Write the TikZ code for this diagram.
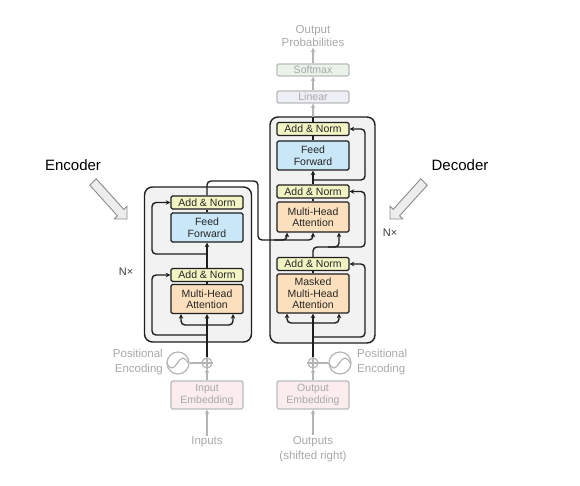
\documentclass[tikz,border=0pt]{standalone}
\usepackage{fontspec}
\setmainfont{Liberation Sans}
\usetikzlibrary{arrows.meta}
\definecolor{anfill}{HTML}{F2F4C4}
\definecolor{fffill}{HTML}{C9E7F6}
\definecolor{mhafill}{HTML}{FCE0BE}
\definecolor{bgfill}{HTML}{F2F2F2}
\definecolor{linfill}{HTML}{EEEEF6}
\definecolor{smfill}{HTML}{E9F3E9}
\definecolor{embfill}{HTML}{FBEDED}
\definecolor{gtxt}{HTML}{A8A8A8}
\definecolor{gln}{HTML}{B4B4B4}
\definecolor{dark}{HTML}{1E1E1E}
\begin{document}
\begin{tikzpicture}[x=1pt,y=-1pt,
  bgbox/.style={draw=dark, line width=1.4pt, fill=bgfill, rounded corners=8pt, inner sep=0pt},
  blk/.style={draw=dark, line width=1.3pt, rounded corners=1.5pt, minimum width=72pt, inner sep=0pt, align=center, text=black!85, font=\fontsize{10.5}{11.5}\selectfont},
  an/.style={blk, fill=anfill, minimum height=13pt},
  ff/.style={blk, fill=fffill, minimum height=29pt},
  mha/.style={blk, fill=mhafill, minimum height=29pt},
  gbox/.style={draw=gln!90, line width=1.3pt, rounded corners=1.5pt, minimum width=72pt, minimum height=12pt, inner sep=0pt, align=center, text=gtxt, font=\fontsize{10.5}{11.5}\selectfont},
  gtext/.style={text=gtxt, align=center, inner sep=1pt, font=\fontsize{11.5}{14}\selectfont},
  ln/.style={draw=dark, line width=1.4pt, rounded corners=4pt},
  arr/.style={ln, -{Stealth[length=4.5pt,width=4.5pt]}},
  gl/.style={draw=gln, line width=1.2pt},
  garr/.style={gl, -{Stealth[length=4.5pt,width=4.5pt]}},
  barrow/.style={draw=black!45, fill=black!7, line width=0.9pt, line join=miter},
  lbl/.style={font=\fontsize{15}{18}\selectfont, inner sep=0pt},
  nx/.style={font=\fontsize{11}{13}\selectfont, text=black!75, inner sep=0pt}
]
\useasboundingbox (0,0) rectangle (580,486);

% background boxes
\node[bgbox, minimum width=107pt, minimum height=155pt] (ebox) at (198,264.5) {};
\node[bgbox, minimum width=105pt, minimum height=226pt] (dbox) at (322.5,230) {};

% encoder blocks
\node[an] (eAN2) at (207,202.5) {Add \& Norm};
\node[ff] (eFF) at (207,227.5) {Feed\\Forward};
\node[an] (eAN1) at (207,275) {Add \& Norm};
\node[mha] (eMHA) at (207,299) {Multi-Head\\Attention};

% decoder blocks
\node[an] (dAN3) at (313,129) {Add \& Norm};
\node[ff] (dFF) at (313,155.5) {Feed\\Forward};
\node[an] (dAN2) at (313,191.5) {Add \& Norm};
\node[mha, minimum height=30pt] (dMHA) at (313,217) {Multi-Head\\Attention};
\node[an] (dAN1) at (313,264) {Add \& Norm};
\node[mha, minimum height=39pt] (dMMHA) at (313,293.5) {Masked\\Multi-Head\\Attention};

% top gray
\node[gbox, fill=linfill] (lin) at (313,97) {Linear};
\node[gbox, fill=smfill] (sm) at (313,70) {Softmax};
\node[gtext, font=\fontsize{11.5}{13}\selectfont] (outp) at (313,36) {Output\\Probabilities};

% bottom gray
\node[gbox, fill=embfill, minimum height=28pt] (ein) at (207,395) {Input\\Embedding};
\node[gbox, fill=embfill, minimum height=28pt] (dout) at (313,395) {Output\\Embedding};
\node[gtext] (inp) at (207,442) {Inputs};
\node[gtext, font=\fontsize{11.5}{15}\selectfont] (outs) at (313,449) {Outputs\\(shifted right)};
\node[gl, circle, minimum size=10pt, inner sep=0pt] (eplus) at (207,363) {};
\node[gl, circle, minimum size=10pt, inner sep=0pt] (dplus) at (313,363) {};
\draw[gl] (eplus.north) -- (eplus.south) (eplus.west) -- (eplus.east);
\draw[gl] (dplus.north) -- (dplus.south) (dplus.west) -- (dplus.east);
\node[gl, circle, minimum size=22pt, inner sep=0pt] (esin) at (178,363) {};
\node[gl, circle, minimum size=22pt, inner sep=0pt] (dsin) at (340,363) {};
\draw[gl] (esin.west) sin ++(5.5,5) cos ++(5.5,-5) sin ++(5.5,-5) cos ++(5.5,5);
\draw[gl] (dsin.west) sin ++(5.5,5) cos ++(5.5,-5) sin ++(5.5,-5) cos ++(5.5,5);
\draw[gl] (esin.east) -- (eplus.west);
\draw[gl] (dplus.east) -- (dsin.west);
\node[gtext, anchor=east, align=right, font=\fontsize{11.5}{15}\selectfont] (epos) at (164,362.5) {Positional\\Encoding};
\node[gtext, anchor=west, align=left, font=\fontsize{11.5}{15}\selectfont] (dpos) at (356,362.5) {Positional\\Encoding};

% gray arrows
\draw[garr] (inp.north) -- (ein.south);
\draw[garr] (ein.north) -- (eplus.south);
\draw[garr] (outs.north) -- (dout.south);
\draw[garr] (dout.north) -- (dplus.south);
\coordinate (dtop) at (313,117);
\draw[ln] (dAN3.north) -- (dtop);
\draw[garr] (dtop) -- (lin.south);
\draw[garr] (lin.north) -- (sm.south);
\draw[garr] (sm.north) -- (outp.south);

% encoder connections
\coordinate (efork) at (207,325);
\coordinate (eres1) at (207,335);
\coordinate (eres2) at (207,254);
\draw[arr] (eplus.north) -- (eMHA.south);
\draw[arr] (efork) -| ([xshift=-26pt]eMHA.south);
\draw[arr] (efork) -| ([xshift=26pt]eMHA.south);
\draw[arr] (eres1) -| (152,275) -- (eAN1.west);
\draw[ln] (eMHA.north) -- (eAN1.south);
\draw[arr] (eAN1.north) -- (eFF.south);
\draw[arr] (eres2) -| (152,202.5) -- (eAN2.west);
\draw[ln] (eFF.north) -- (eAN2.south);
\coordinate (ebr) at (274,240);
\draw[arr] (eAN2.north) -- (207,181) -| (258,240) -| (dMHA.south);
\draw[arr] (ebr) -| ([xshift=-26pt]dMHA.south);

% decoder connections
\coordinate (dfork) at (313,323);
\coordinate (dres1) at (313,337);
\coordinate (dres3) at (313,180);
\coordinate (dbr) at (328,247);
\draw[arr] (dplus.north) -- (dMMHA.south);
\draw[arr] (dfork) -| ([xshift=-26pt]dMMHA.south);
\draw[arr] (dfork) -| ([xshift=26pt]dMMHA.south);
\draw[arr] (dres1) -| (365,264) -- (dAN1.east);
\draw[ln] (dMMHA.north) -- (dAN1.south);
\draw[arr] (dAN1.north) -- (313,247) -| (365,191.5) -- (dAN2.east);
\draw[arr] (dbr) -| ([xshift=26pt]dMHA.south);
\draw[ln] (dMHA.north) -- (dAN2.south);
\draw[arr] (dAN2.north) -- (dFF.south);
\draw[arr] (dres3) -| (365,129) -- (dAN3.east);
\draw[ln] (dFF.north) -- (dAN3.south);

% labels
\node[lbl] (enc) at (73,165) {Encoder};
\node[lbl] (dec) at (460,165) {Decoder};
\node[nx] (enx) at (126,272) {N×};
\node[nx] (dnx) at (390,233) {N×};
\draw[barrow] (89.8,185.2) -- (117.4,215.8) -- (114.2,219.0) -- (127,219) -- (127.0,206.2) -- (123.8,209.4) -- (96.2,178.8) -- cycle;
\draw[barrow] (427.2,185.2) -- (399.6,215.8) -- (402.8,219.0) -- (390,219) -- (390,206.2) -- (393.2,209.4) -- (420.8,178.8) -- cycle;
\end{tikzpicture}
\end{document}
